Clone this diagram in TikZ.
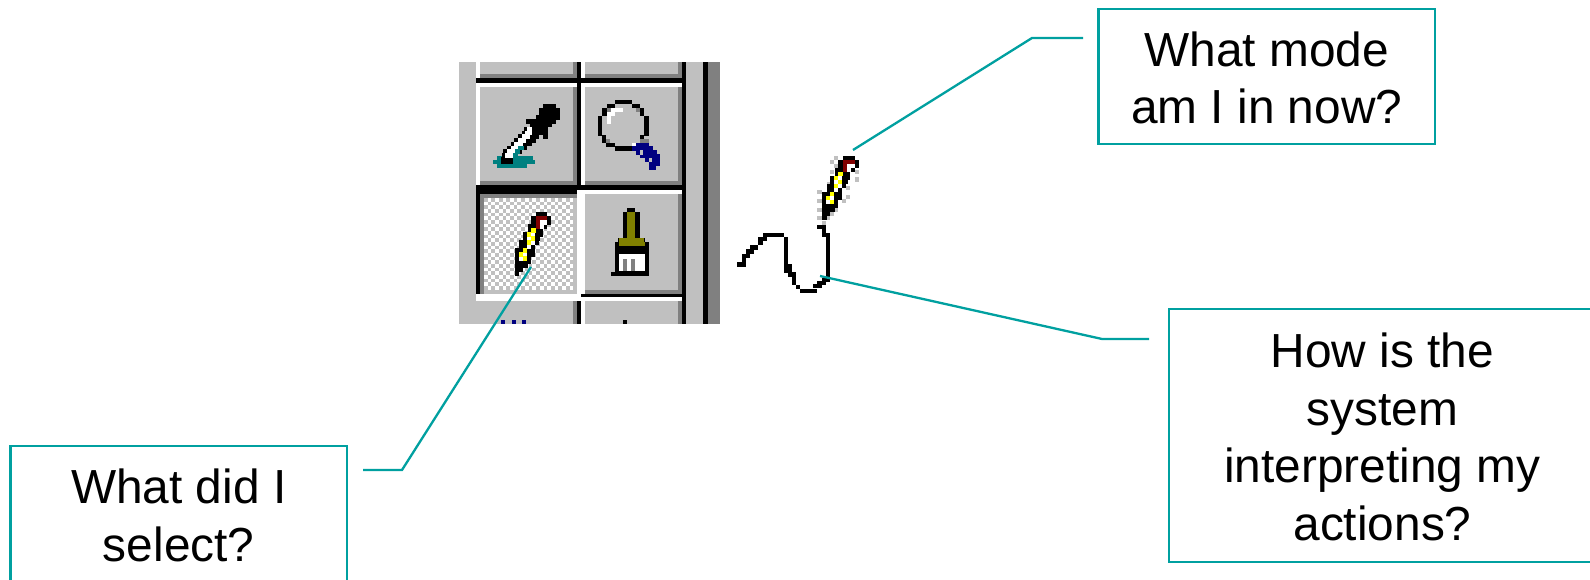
\documentclass[tikz,border=0pt]{standalone}
\usepackage{fontspec}
\setmainfont{Liberation Sans}

\definecolor{leadteal}{HTML}{00A0A0}
\definecolor{facegray}{HTML}{C0C0C0}
\definecolor{edgegray}{HTML}{808080}
\definecolor{iconteal}{HTML}{008080}
\definecolor{iconnavy}{HTML}{000080}
\definecolor{iconolive}{HTML}{808000}
\definecolor{iconred}{HTML}{800000}
\definecolor{iconyellow}{HTML}{FFFF00}

% filled bar, and rows of screen pixels
\newcommand{\tb}[5]{\fill[#1] (#2,#3) rectangle (#4,#5);}
\newcommand{\runs}[2]{\foreach \xa/\xb/\ya in {#2} {\fill[#1] (\xa,\ya) rectangle (\xb,\ya+13);}}
% keeps the text block where the slide had it
\newcommand{\vs}{\rule[-2pt]{0pt}{14.5pt}}

\newcommand{\pencilicon}{%
	\runs{black}{370/405/78, 355/417/90, 355/417/102, 345/405/114, 345/392/126, 332/392/138, 332/384/150, 320/380/162, 320/368/174, 307/368/186, 307/368/198, 307/355/210, 307/355/222, 307/345/234, 307/332/246, 307/320/258}
	\runs{iconred}{370/405/90, 370/382/102, 370/382/114}
	\runs{white}{382/405/102, 382/394/114, 355/368/138, 342/355/150, 355/368/162, 342/355/174, 330/342/198, 318/330/210}
	\runs{iconyellow}{355/370/126, 342/355/138, 355/368/150, 342/355/162, 330/342/186, 318/330/198, 330/342/210}
}

\begin{document}
\begin{tikzpicture}[x=0.01cm, y=-0.01cm]
	\tikzset{askbox/.style={rectangle, draw=leadteal, line width=0.023cm, inner sep=0pt, align=center, font=\fontsize{13.6}{16.4}\selectfont}}
	\tikzset{leader/.style={leadteal, line width=0.023cm}}

	\clip (0,0) rectangle (1590,580);
	\fill[white] (0,0) rectangle (1590,580);

	% toolbar, in 3x crop units
	\begin{scope}[shift={(450,50)}, x=0.0033333cm, y=-0.0033333cm]
		\tb{facegray}{28}{35}{810}{822}
		\tb{black}{697}{35}{710}{822}
		\tb{black}{760}{35}{775}{822}
		\tb{edgegray}{775}{35}{810}{822}
		% top row
		\tb{white}{78}{35}{90}{85}
		\tb{white}{393}{35}{405}{85}
		\tb{edgegray}{90}{73}{382}{85}
		\tb{edgegray}{405}{73}{697}{85}
		\tb{edgegray}{370}{35}{382}{85}
		\tb{edgegray}{685}{35}{697}{85}
		\tb{black}{382}{35}{393}{98}
		\tb{black}{78}{85}{697}{98}
		% second row
		\tb{white}{78}{98}{382}{110}
		\tb{white}{393}{98}{697}{110}
		\tb{white}{78}{98}{90}{407}
		\tb{white}{393}{98}{405}{407}
		\tb{edgegray}{90}{393}{382}{407}
		\tb{edgegray}{405}{393}{697}{407}
		\tb{edgegray}{370}{110}{382}{407}
		\tb{edgegray}{685}{110}{697}{407}
		\tb{black}{382}{98}{393}{420}
		\tb{black}{78}{407}{697}{420}
		% pressed button
		\tb{black}{78}{420}{382}{432}
		\tb{black}{78}{420}{90}{732}
		\tb{edgegray}{90}{432}{382}{445}
		\tb{edgegray}{90}{432}{102}{732}
		\tb{white}{102}{445}{370}{720}
		\foreach \c in {0,...,23} {
			\foreach \r in {0,...,24} {
				\pgfmathparse{int(mod(\c+\r,2))}
				\ifnum\pgfmathresult=0
					\fill[facegray] (102+\c*11.2,445+\r*11.0) rectangle (113.2+\c*11.2,456+\r*11.0);
				\fi
			}
		}
		\tb{facegray}{370}{445}{382}{732}
		\tb{facegray}{102}{720}{382}{732}
		\tb{white}{382}{420}{405}{755}
		\tb{white}{78}{732}{393}{755}
		% brush button
		\tb{white}{393}{420}{697}{432}
		\tb{edgegray}{405}{720}{697}{732}
		\tb{edgegray}{685}{432}{697}{732}
		\tb{black}{393}{732}{697}{743}
		% bottom row
		\tb{white}{393}{743}{697}{755}
		\tb{white}{393}{743}{405}{822}
		\tb{edgegray}{370}{755}{382}{822}
		\tb{edgegray}{685}{755}{697}{822}
		\tb{black}{382}{755}{393}{822}
		\runs{iconnavy}{153/165/810, 187/199/810, 216/228/810}
		\runs{black}{520/532/810}
		% dropper
		\runs{iconteal}{140/250/318, 130/255/330, 142/230/342}
		\runs{black}{280/318/162, 268/330/173, 268/330/185, 257/330/196, 228/318/208, 240/307/219, 222/295/230, 216/295/242, 205/268/253, 280/295/253, 193/257/265, 182/245/276, 170/230/288, 160/215/299, 155/205/311, 153/190/322, 153/190/330}
		\runs{white}{230/245/230, 225/245/242, 216/240/253, 205/228/265, 193/218/276, 182/205/288, 170/195/299, 165/190/311}
		\runs{iconteal}{205/222/288, 195/210/299, 190/205/311}
		% magnifier
		\runs{black}{495/547/150, 472/495/162, 547/570/162, 457/472/173, 570/582/173, 457/472/185, 570/582/185, 445/457/197, 582/597/197, 445/457/209, 582/597/209, 445/457/221, 582/597/221, 445/457/233, 582/597/233, 445/457/245, 582/597/245, 457/468/255, 570/582/255, 457/468/267, 470/495/278, 495/547/290}
		\runs{white}{483/520/173, 472/495/185, 472/483/197, 472/483/209, 547/570/278}
		\runs{edgegray}{472/483/173, 558/570/173, 468/480/267, 570/597/267}
		\runs{iconnavy}{558/597/278, 547/610/290, 558/622/302, 570/632/313, 585/632/325, 597/632/336, 597/620/347}
		\runs{facegray}{570/580/302, 597/608/325}
		% brush
		\runs{black}{533/557/475}
		\tb{black}{520}{487}{570}{565}
		\tb{iconolive}{533}{487}{557}{565}
		\tb{black}{505}{565}{585}{577}
		\tb{iconolive}{508}{565}{582}{577}
		\tb{black}{495}{577}{597}{670}
		\tb{iconolive}{508}{577}{585}{589}
		\tb{white}{508}{612}{585}{665}
		\tb{edgegray}{520}{627}{532}{665}
		\tb{edgegray}{545}{627}{557}{665}
		\tb{black}{483}{668}{597}{680}
	\end{scope}

	% pencil on the pressed button
	\begin{scope}[shift={(412.7,186.3)}, x=0.0033333cm, y=-0.0033333cm]
		\pencilicon
	\end{scope}

	% pencil and stroke on the canvas
	\begin{scope}[shift={(720,130)}, x=0.0033333cm, y=-0.0033333cm]
		\runs{facegray}{342/354/78, 330/342/90, 342/354/102, 330/342/120, 405/417/120, 405/417/142, 320/332/155, 380/392/168, 292/306/180, 292/306/207, 380/392/195, 368/380/207, 292/306/234, 345/355/234, 332/342/246, 292/306/258, 320/332/258, 306/318/272}
		\pencilicon
		\runs{black}{292/318/285, 307/318/297, 307/330/310}
		\tb{black}{318}{322}{330}{452}
		\runs{black}{305/330/445, 292/318/453, 280/305/463, 240/290/478, 228/240/465, 216/228/452, 216/228/440, 205/228/428, 193/216/416, 193/216/404}
		\tb{black}{193}{322}{205}{404}
		\runs{black}{130/193/310, 115/140/322, 115/128/334, 90/115/347, 78/102/359, 65/90/372, 65/78/385, 52/78/398}
	\end{scope}

	\node[askbox, minimum width=3.365cm, minimum height=1.35cm] (modeBox) at (1266.7,76.5) {\vs What mode\\am I in now?\vs};
	\node[askbox, minimum width=4.27cm, minimum height=2.53cm] (sysBox) at (1382.5,435.5) {\vs How is the\\system\\interpreting my\\actions?\vs};
	\node[askbox, minimum width=3.365cm, minimum height=1.36cm] (selBox) at (178.7,514) {\vs What did I\\select?\vs};

	\coordinate (modeTip) at (853,150);
	\coordinate (modeBend) at (1032,38);
	\coordinate (modeEnd) at (1083,38);
	\coordinate (sysTip) at (820,276);
	\coordinate (sysBend) at (1102,339);
	\coordinate (sysEnd) at (1149,339);
	\coordinate (selTip) at (531,267);
	\coordinate (selBend) at (402,470);
	\coordinate (selEnd) at (363,470);

	\draw[leader] (modeTip) -- (modeBend) -- (modeEnd);
	\draw[leader] (sysTip) -- (sysBend) -- (sysEnd);
	\draw[leader] (selTip) -- (selBend) -- (selEnd);
\end{tikzpicture}
\end{document}
